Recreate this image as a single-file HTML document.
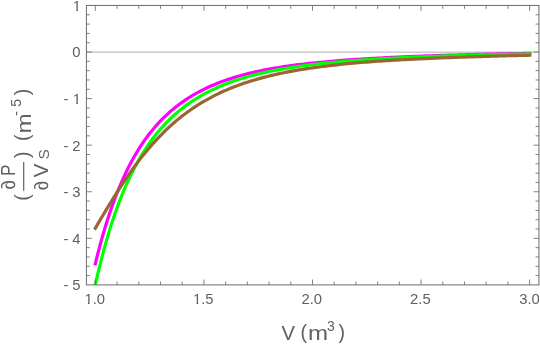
<!DOCTYPE html>
<html><head><meta charset="utf-8"><title>Plot</title>
<style>html,body{margin:0;padding:0;background:#fff;width:540px;height:345px;overflow:hidden;font-family:"Liberation Sans",sans-serif}</style>
</head><body>
<svg width="540" height="345" viewBox="0 0 540 345" style="display:block;position:absolute;left:0;top:0;will-change:transform">
<rect width="540" height="345" fill="#fff"/>
<line x1="86.40" y1="52.13" x2="538.95" y2="52.13" stroke="#a8a8a8" stroke-width="0.9"/>
<clipPath id="c"><rect x="86.40" y="5.45" width="452.55" height="279.45"/></clipPath>
<g clip-path="url(#c)" fill="none" stroke-width="3.2" stroke-linejoin="round" stroke-linecap="square">
<path d="M95.30 263.83 L98.01 252.88 L100.73 242.61 L103.45 232.99 L106.16 223.95 L108.88 215.47 L111.59 207.50 L114.30 200.00 L117.02 192.94 L119.74 186.29 L122.45 180.03 L125.16 174.12 L127.88 168.54 L130.60 163.27 L133.31 158.30 L136.02 153.59 L138.74 149.14 L141.45 144.93 L144.17 140.94 L146.88 137.16 L149.60 133.57 L152.31 130.17 L155.03 126.94 L157.75 123.87 L160.46 120.96 L163.18 118.19 L165.89 115.56 L168.60 113.05 L171.32 110.67 L174.03 108.40 L176.75 106.23 L179.46 104.17 L182.18 102.20 L184.90 100.32 L187.61 98.53 L190.32 96.82 L193.04 95.19 L195.75 93.63 L198.47 92.13 L201.19 90.71 L203.90 89.34 L206.62 88.03 L209.33 86.78 L212.05 85.58 L214.76 84.43 L217.47 83.33 L220.19 82.28 L222.90 81.27 L225.62 80.30 L228.33 79.37 L231.05 78.47 L233.77 77.61 L236.48 76.79 L239.19 76.00 L241.91 75.23 L244.62 74.50 L247.34 73.80 L250.05 73.13 L252.77 72.49 L255.49 71.88 L258.20 71.29 L260.92 70.72 L263.63 70.17 L266.35 69.64 L269.06 69.13 L271.77 68.64 L274.49 68.17 L277.20 67.72 L279.92 67.28 L282.63 66.86 L285.35 66.45 L288.06 66.06 L290.78 65.68 L293.50 65.32 L296.21 64.96 L298.93 64.62 L301.64 64.29 L304.35 63.98 L307.07 63.67 L309.78 63.38 L312.50 63.09 L315.22 62.80 L317.93 62.52 L320.64 62.25 L323.36 61.99 L326.07 61.74 L328.79 61.49 L331.51 61.25 L334.22 61.02 L336.93 60.80 L339.65 60.58 L342.37 60.37 L345.08 60.17 L347.80 59.97 L350.51 59.78 L353.23 59.60 L355.94 59.42 L358.66 59.24 L361.37 59.07 L364.08 58.91 L366.80 58.75 L369.52 58.59 L372.23 58.44 L374.94 58.29 L377.66 58.15 L380.38 58.00 L383.09 57.85 L385.81 57.71 L388.52 57.57 L391.23 57.43 L393.95 57.30 L396.67 57.17 L399.38 57.05 L402.10 56.92 L404.81 56.80 L407.52 56.68 L410.24 56.57 L412.96 56.46 L415.67 56.35 L418.38 56.24 L421.10 56.14 L423.82 56.04 L426.53 55.94 L429.25 55.84 L431.96 55.74 L434.68 55.65 L437.39 55.56 L440.11 55.47 L442.82 55.38 L445.53 55.30 L448.25 55.22 L450.97 55.13 L453.68 55.05 L456.40 54.98 L459.11 54.90 L461.82 54.82 L464.54 54.75 L467.26 54.68 L469.97 54.61 L472.68 54.54 L475.40 54.47 L478.12 54.40 L480.83 54.34 L483.55 54.28 L486.26 54.21 L488.97 54.15 L491.69 54.09 L494.41 54.03 L497.12 53.97 L499.83 53.91 L502.55 53.86 L505.27 53.80 L507.98 53.75 L510.69 53.70 L513.41 53.64 L516.12 53.59 L518.84 53.54 L521.56 53.49 L524.27 53.44 L526.98 53.39 L529.70 53.35" stroke="#ff00ff"/>
<path d="M95.30 284.80 L98.01 272.94 L100.73 261.82 L103.45 251.38 L106.16 241.58 L108.88 232.37 L111.59 223.70 L114.30 215.55 L117.02 207.86 L119.74 200.62 L122.45 193.79 L125.16 187.34 L127.88 181.26 L130.60 175.50 L133.31 170.06 L136.02 164.92 L138.74 160.04 L141.45 155.43 L144.17 151.05 L146.88 146.90 L149.60 142.97 L152.31 139.23 L155.03 135.69 L157.75 132.31 L160.46 129.11 L163.18 126.06 L165.89 123.16 L168.60 120.39 L171.32 117.76 L174.03 115.26 L176.75 112.87 L179.46 110.58 L182.18 108.41 L184.90 106.33 L187.61 104.35 L190.32 102.45 L193.04 100.64 L195.75 98.91 L198.47 97.26 L201.19 95.67 L203.90 94.15 L206.62 92.70 L209.33 91.31 L212.05 89.98 L214.76 88.70 L217.47 87.47 L220.19 86.30 L222.90 85.17 L225.62 84.09 L228.33 83.05 L231.05 82.05 L233.77 81.09 L236.48 80.17 L239.19 79.28 L241.91 78.43 L244.62 77.61 L247.34 76.82 L250.05 76.07 L252.77 75.35 L255.49 74.65 L258.20 73.98 L260.92 73.34 L263.63 72.72 L266.35 72.12 L269.06 71.54 L271.77 70.99 L274.49 70.45 L277.20 69.93 L279.92 69.43 L282.63 68.95 L285.35 68.49 L288.06 68.04 L290.78 67.61 L293.50 67.19 L296.21 66.79 L298.93 66.40 L301.64 66.02 L304.35 65.66 L307.07 65.30 L309.78 64.96 L312.50 64.63 L315.22 64.31 L317.93 63.99 L320.64 63.69 L323.36 63.40 L326.07 63.11 L328.79 62.83 L331.51 62.57 L334.22 62.31 L336.93 62.06 L339.65 61.81 L342.37 61.58 L345.08 61.35 L347.80 61.12 L350.51 60.91 L353.23 60.70 L355.94 60.50 L358.66 60.30 L361.37 60.11 L364.08 59.92 L366.80 59.74 L369.52 59.57 L372.23 59.40 L374.94 59.23 L377.66 59.07 L380.38 58.90 L383.09 58.74 L385.81 58.58 L388.52 58.43 L391.23 58.28 L393.95 58.13 L396.67 57.99 L399.38 57.85 L402.10 57.72 L404.81 57.59 L407.52 57.46 L410.24 57.33 L412.96 57.21 L415.67 57.09 L418.38 56.97 L421.10 56.86 L423.82 56.75 L426.53 56.64 L429.25 56.53 L431.96 56.43 L434.68 56.33 L437.39 56.23 L440.11 56.14 L442.82 56.04 L445.53 55.95 L448.25 55.86 L450.97 55.77 L453.68 55.69 L456.40 55.60 L459.11 55.52 L461.82 55.44 L464.54 55.36 L467.26 55.29 L469.97 55.21 L472.68 55.14 L475.40 55.07 L478.12 55.00 L480.83 54.93 L483.55 54.86 L486.26 54.79 L488.97 54.73 L491.69 54.67 L494.41 54.60 L497.12 54.54 L499.83 54.48 L502.55 54.42 L505.27 54.37 L507.98 54.31 L510.69 54.26 L513.41 54.20 L516.12 54.15 L518.84 54.10 L521.56 54.04 L524.27 53.99 L526.98 53.94 L529.70 53.90" stroke="#00ff00"/>
<path d="M95.30 228.27 L98.01 223.66 L100.73 219.06 L103.45 214.48 L106.16 209.94 L108.88 205.44 L111.59 200.99 L114.30 196.61 L117.02 192.30 L119.74 188.06 L122.45 183.91 L125.16 179.84 L127.88 175.86 L130.60 171.98 L133.31 168.19 L136.02 164.49 L138.74 160.89 L141.45 157.39 L144.17 153.98 L146.88 150.67 L149.60 147.46 L152.31 144.35 L155.03 141.33 L157.75 138.40 L160.46 135.57 L163.18 132.82 L165.89 130.17 L168.60 127.60 L171.32 125.12 L174.03 122.72 L176.75 120.40 L179.46 118.16 L182.18 115.99 L184.90 113.92 L187.61 111.92 L190.32 109.99 L193.04 108.13 L195.75 106.34 L198.47 104.60 L201.19 102.93 L203.90 101.32 L206.62 99.77 L209.33 98.28 L212.05 96.83 L214.76 95.44 L217.47 94.10 L220.19 92.81 L222.90 91.56 L225.62 90.36 L228.33 89.21 L231.05 88.09 L233.77 87.02 L236.48 85.98 L239.19 84.98 L241.91 84.02 L244.62 83.09 L247.34 82.20 L250.05 81.33 L252.77 80.48 L255.49 79.67 L258.20 78.89 L260.92 78.14 L263.63 77.41 L266.35 76.70 L269.06 76.02 L271.77 75.37 L274.49 74.74 L277.20 74.13 L279.92 73.54 L282.63 72.97 L285.35 72.42 L288.06 71.89 L290.78 71.38 L293.50 70.89 L296.21 70.41 L298.93 69.95 L301.64 69.50 L304.35 69.07 L307.07 68.66 L309.78 68.26 L312.50 67.87 L315.22 67.48 L317.93 67.10 L320.64 66.74 L323.36 66.39 L326.07 66.05 L328.79 65.72 L331.51 65.40 L334.22 65.09 L336.93 64.79 L339.65 64.50 L342.37 64.22 L345.08 63.95 L347.80 63.68 L350.51 63.43 L353.23 63.18 L355.94 62.94 L358.66 62.70 L361.37 62.48 L364.08 62.26 L366.80 62.04 L369.52 61.83 L372.23 61.63 L374.94 61.44 L377.66 61.25 L380.38 61.06 L383.09 60.88 L385.81 60.71 L388.52 60.54 L391.23 60.38 L393.95 60.22 L396.67 60.06 L399.38 59.91 L402.10 59.76 L404.81 59.62 L407.52 59.48 L410.24 59.35 L412.96 59.22 L415.67 59.09 L418.38 58.96 L421.10 58.84 L423.82 58.71 L426.53 58.58 L429.25 58.46 L431.96 58.33 L434.68 58.21 L437.39 58.10 L440.11 57.98 L442.82 57.87 L445.53 57.76 L448.25 57.65 L450.97 57.55 L453.68 57.45 L456.40 57.35 L459.11 57.25 L461.82 57.15 L464.54 57.06 L467.26 56.97 L469.97 56.88 L472.68 56.79 L475.40 56.70 L478.12 56.61 L480.83 56.53 L483.55 56.44 L486.26 56.36 L488.97 56.28 L491.69 56.20 L494.41 56.12 L497.12 56.05 L499.83 55.97 L502.55 55.90 L505.27 55.83 L507.98 55.76 L510.69 55.69 L513.41 55.62 L516.12 55.55 L518.84 55.48 L521.56 55.42 L524.27 55.35 L526.98 55.29 L529.70 55.23" stroke="#996633"/>
</g>
<path d="M95.35 284.90v-5.40M95.35 5.45v5.40M117.06 284.90v-3.40M117.06 5.45v3.40M138.77 284.90v-3.40M138.77 5.45v3.40M160.49 284.90v-3.40M160.49 5.45v3.40M182.20 284.90v-3.40M182.20 5.45v3.40M203.91 284.90v-5.40M203.91 5.45v5.40M225.62 284.90v-3.40M225.62 5.45v3.40M247.34 284.90v-3.40M247.34 5.45v3.40M269.05 284.90v-3.40M269.05 5.45v3.40M290.76 284.90v-3.40M290.76 5.45v3.40M312.48 284.90v-5.40M312.48 5.45v5.40M334.19 284.90v-3.40M334.19 5.45v3.40M355.90 284.90v-3.40M355.90 5.45v3.40M377.61 284.90v-3.40M377.61 5.45v3.40M399.33 284.90v-3.40M399.33 5.45v3.40M421.04 284.90v-5.40M421.04 5.45v5.40M442.75 284.90v-3.40M442.75 5.45v3.40M464.46 284.90v-3.40M464.46 5.45v3.40M486.17 284.90v-3.40M486.17 5.45v3.40M507.89 284.90v-3.40M507.89 5.45v3.40M529.60 284.90v-5.40M529.60 5.45v5.40M86.40 275.59h3.40M538.95 275.59h-3.40M86.40 266.27h3.40M538.95 266.27h-3.40M86.40 256.96h3.40M538.95 256.96h-3.40M86.40 247.65h3.40M538.95 247.65h-3.40M86.40 238.33h5.40M538.95 238.33h-5.40M86.40 229.02h3.40M538.95 229.02h-3.40M86.40 219.70h3.40M538.95 219.70h-3.40M86.40 210.39h3.40M538.95 210.39h-3.40M86.40 201.07h3.40M538.95 201.07h-3.40M86.40 191.76h5.40M538.95 191.76h-5.40M86.40 182.44h3.40M538.95 182.44h-3.40M86.40 173.12h3.40M538.95 173.12h-3.40M86.40 163.81h3.40M538.95 163.81h-3.40M86.40 154.50h3.40M538.95 154.50h-3.40M86.40 145.18h5.40M538.95 145.18h-5.40M86.40 135.87h3.40M538.95 135.87h-3.40M86.40 126.55h3.40M538.95 126.55h-3.40M86.40 117.23h3.40M538.95 117.23h-3.40M86.40 107.92h3.40M538.95 107.92h-3.40M86.40 98.61h5.40M538.95 98.61h-5.40M86.40 89.29h3.40M538.95 89.29h-3.40M86.40 79.97h3.40M538.95 79.97h-3.40M86.40 70.66h3.40M538.95 70.66h-3.40M86.40 61.34h3.40M538.95 61.34h-3.40M86.40 52.03h5.40M538.95 52.03h-5.40M86.40 42.71h3.40M538.95 42.71h-3.40M86.40 33.40h3.40M538.95 33.40h-3.40M86.40 24.08h3.40M538.95 24.08h-3.40M86.40 14.77h3.40M538.95 14.77h-3.40" stroke="#6b6b6b" stroke-width="0.85" fill="none"/>
<rect x="86.40" y="5.45" width="452.55" height="279.45" fill="none" stroke="#6b6b6b" stroke-width="1"/>
<clipPath id="k1"><path d="M-1 -14H10V-1.76H5.23V1H3.52V-1.76H-1Z"/></clipPath>
<g font-family="'Liberation Sans', sans-serif" font-size="14.8" fill="#606060">
<text x="72.37" y="290.35">5</text>
<text x="66" y="290.35" text-anchor="middle">-</text>
<text x="72.37" y="243.78">4</text>
<text x="66" y="243.78" text-anchor="middle">-</text>
<text x="72.37" y="197.21">3</text>
<text x="66" y="197.21" text-anchor="middle">-</text>
<text x="72.37" y="150.63">2</text>
<text x="66" y="150.63" text-anchor="middle">-</text>
<g transform="translate(72.67 104.06)" clip-path="url(#k1)"><text x="0" y="0">1</text></g>
<text x="66" y="104.06" text-anchor="middle">-</text>
<text x="72.37" y="57.48">0</text>
<g transform="translate(72.67 10.90)" clip-path="url(#k1)"><text x="0" y="0">1</text></g>
<g transform="translate(84.41 304.20)" clip-path="url(#k1)"><text x="0" y="0">1</text></g>
<text x="92.64" y="304.20">.0</text>
<g transform="translate(192.98 304.20)" clip-path="url(#k1)"><text x="0" y="0">1</text></g>
<text x="201.21" y="304.20">.5</text>
<text x="301.54" y="304.20">2.0</text>
<text x="410.10" y="304.20">2.5</text>
<text x="519.16" y="304.20">3.0</text>
</g>
<g font-family="'Liberation Sans', sans-serif" fill="#606060">
<text x="281.6" y="340" font-size="20.3">V</text>
<text x="300.6" y="338.5" font-size="19.5">(</text>
<text x="308.1" y="340" font-size="20.3" textLength="20.1" lengthAdjust="spacingAndGlyphs">m</text>
<text x="327.1" y="331.2" font-size="14">3</text>
<text x="338.5" y="338.5" font-size="19.5">)</text>
<text transform="translate(29.00 200.80) rotate(-90)" font-size="19.5" >(</text>
<text transform="translate(14.80 188.50) rotate(-90) skewX(12)" font-size="19.5" >∂</text>
<text transform="translate(14.80 175.90) rotate(-90)" font-size="19.5" textLength="11.5" lengthAdjust="spacingAndGlyphs">P</text>
<text transform="translate(47.80 189.20) rotate(-90) skewX(12)" font-size="19.5" >∂</text>
<text transform="translate(47.90 177.20) rotate(-90)" font-size="20.3" >V</text>
<line x1="23.7" y1="162" x2="23.7" y2="190.8" stroke="#606060" stroke-width="1.2"/>
<text transform="translate(29.00 157.90) rotate(-90)" font-size="19.5" >)</text>
<text transform="translate(48.60 159.40) rotate(-90)" font-size="15.5" >S</text>
<text transform="translate(29.00 141.00) rotate(-90)" font-size="19.5" >(</text>
<text transform="translate(30.50 133.60) rotate(-90)" font-size="20.3" textLength="20.1" lengthAdjust="spacingAndGlyphs">m</text>
<text transform="translate(20.60 115.80) rotate(-90)" font-size="14" >-</text>
<text transform="translate(20.50 106.70) rotate(-90)" font-size="14" >5</text>
<text transform="translate(29.00 95.30) rotate(-90)" font-size="19.5" >)</text>
</g>
</svg>
</body></html>
